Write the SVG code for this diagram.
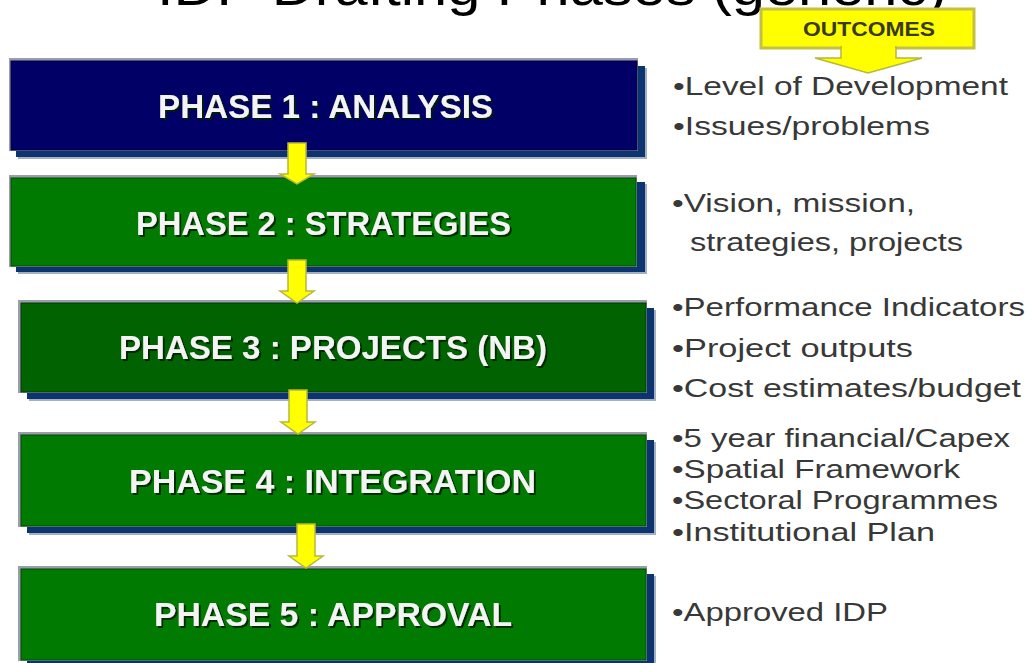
<svg xmlns="http://www.w3.org/2000/svg" width="1033" height="663" viewBox="0 0 1033 663">
  <defs>
    <filter id="ts" x="-5%" y="-20%" width="110%" height="150%">
      <feDropShadow dx="2" dy="2" stdDeviation="0.6" flood-color="#001a00" flood-opacity="0.85"/>
    </filter>
    <style>
      .title { font-family: "Liberation Sans", Arial, sans-serif; font-size: 52px; fill: #000; }
      .fringe { fill: #a4b0c2; }
      .shadow { fill: #0c3470; }
      .hl { fill: #9c9cae; }
      .navy { fill: #000066; stroke: #00003a; stroke-width: 1; }
      .green { fill: #007a00; stroke: #004a00; stroke-width: 1; }
      .dgreen { fill: #006200; stroke: #003c00; stroke-width: 1; }
      .label { font-family: "Liberation Sans", Arial, sans-serif; font-weight: bold; font-size: 33px; fill: #f4f4f4; text-anchor: start; filter: url(#ts); }
      .out { font-family: "Liberation Sans", Arial, sans-serif; font-size: 26px; fill: #383838; }
      .arrow { fill: #ffff00; stroke: #b8b83a; stroke-width: 1.5; stroke-linejoin: miter; }
      .callout { fill: #ffff00; stroke: #c4c040; stroke-width: 3; }
      .callout-text { font-family: "Liberation Sans", Arial, sans-serif; font-weight: bold; font-size: 21px; fill: #3a3a10; }
    </style>
  </defs>

  <rect x="0" y="0" width="1033" height="663" fill="#ffffff"/>

  <text class="title" x="157" y="5" textLength="790" lengthAdjust="spacingAndGlyphs">IDP Drafting Phases (generic)</text>

  <g id="outcomes">
    <rect class="callout" x="761" y="9" width="213" height="39"/>
    <path class="arrow" d="M841,47 L896,47 L896,58 L922,58 L868,73 L815,58 L841,58 Z"/>
    <rect x="842" y="46" width="53" height="4" fill="#ffff00"/>
    <text class="callout-text" x="803" y="36" textLength="132" lengthAdjust="spacingAndGlyphs">OUTCOMES</text>
  </g>

  <g id="phase1">
    <rect class="fringe" x="18" y="68" width="629" height="91"/>
    <rect class="shadow" x="16" y="66" width="629" height="91"/>
    <rect class="hl" x="9" y="58" width="629" height="93"/>
    <rect class="navy" x="11" y="61" width="626" height="89"/>
    <text class="label" x="158" y="118" textLength="335" lengthAdjust="spacingAndGlyphs">PHASE 1 : ANALYSIS</text>
  </g>

  <g id="phase2">
    <rect class="fringe" x="18" y="184" width="629" height="90"/>
    <rect class="shadow" x="16" y="182" width="629" height="90"/>
    <rect class="hl" x="9" y="175" width="628" height="92"/>
    <rect class="green" x="11" y="178" width="625" height="88"/>
    <text class="label" x="136" y="235" textLength="375" lengthAdjust="spacingAndGlyphs">PHASE 2 : STRATEGIES</text>
  </g>

  <g id="phase3">
    <rect class="fringe" x="29" y="310" width="627" height="91"/>
    <rect class="shadow" x="27" y="308" width="627" height="91"/>
    <rect class="hl" x="18" y="300" width="629" height="93"/>
    <rect class="dgreen" x="21" y="303" width="625" height="89"/>
    <text class="label" x="119" y="359" textLength="428" lengthAdjust="spacingAndGlyphs">PHASE 3 : PROJECTS (NB)</text>
  </g>

  <g id="phase4">
    <rect class="fringe" x="29" y="442" width="627" height="93"/>
    <rect class="shadow" x="27" y="440" width="627" height="93"/>
    <rect class="hl" x="18" y="432" width="629" height="95"/>
    <rect class="green" x="21" y="435" width="625" height="91"/>
    <text class="label" x="129" y="493" textLength="407" lengthAdjust="spacingAndGlyphs">PHASE 4 : INTEGRATION</text>
  </g>

  <g id="phase5">
    <rect class="fringe" x="29" y="576" width="627" height="93"/>
    <rect class="shadow" x="27" y="574" width="627" height="93"/>
    <rect class="hl" x="18" y="566" width="629" height="95"/>
    <rect class="green" x="21" y="569" width="625" height="91"/>
    <text class="label" x="154" y="626" textLength="358" lengthAdjust="spacingAndGlyphs">PHASE 5 : APPROVAL</text>
  </g>

  <g id="connectors">
    <path class="arrow" d="M288,143 L306,143 L306,174 L314,174 L297,184 L280,174 L288,174 Z"/>
    <path class="arrow" d="M288,260 L306,260 L306,291 L314,291 L297,303 L280,291 L288,291 Z"/>
    <path class="arrow" d="M289,390 L307,390 L307,422 L315,422 L298,434 L281,422 L289,422 Z"/>
    <path class="arrow" d="M297,524 L315,524 L315,556 L323,556 L306,568 L289,556 L297,556 Z"/>
  </g>

  <g id="outcome-texts">
    <text class="out" x="673" y="95" textLength="335" lengthAdjust="spacingAndGlyphs">•Level of Development</text>
    <text class="out" x="673" y="135" textLength="257" lengthAdjust="spacingAndGlyphs">•Issues/problems</text>
    <text class="out" x="672" y="212" textLength="243" lengthAdjust="spacingAndGlyphs">•Vision, mission,</text>
    <text class="out" x="690" y="251" textLength="273" lengthAdjust="spacingAndGlyphs">strategies, projects</text>
    <text class="out" x="672" y="316" textLength="353" lengthAdjust="spacingAndGlyphs">•Performance Indicators</text>
    <text class="out" x="672" y="357" textLength="241" lengthAdjust="spacingAndGlyphs">•Project outputs</text>
    <text class="out" x="672" y="397" textLength="349" lengthAdjust="spacingAndGlyphs">•Cost estimates/budget</text>
    <text class="out" x="672" y="447" textLength="338" lengthAdjust="spacingAndGlyphs">•5 year financial/Capex</text>
    <text class="out" x="672" y="478" textLength="288" lengthAdjust="spacingAndGlyphs">•Spatial Framework</text>
    <text class="out" x="672" y="509" textLength="326" lengthAdjust="spacingAndGlyphs">•Sectoral Programmes</text>
    <text class="out" x="672" y="541" textLength="263" lengthAdjust="spacingAndGlyphs">•Institutional Plan</text>
    <text class="out" x="672" y="621" textLength="216" lengthAdjust="spacingAndGlyphs">•Approved IDP</text>
  </g>
</svg>
